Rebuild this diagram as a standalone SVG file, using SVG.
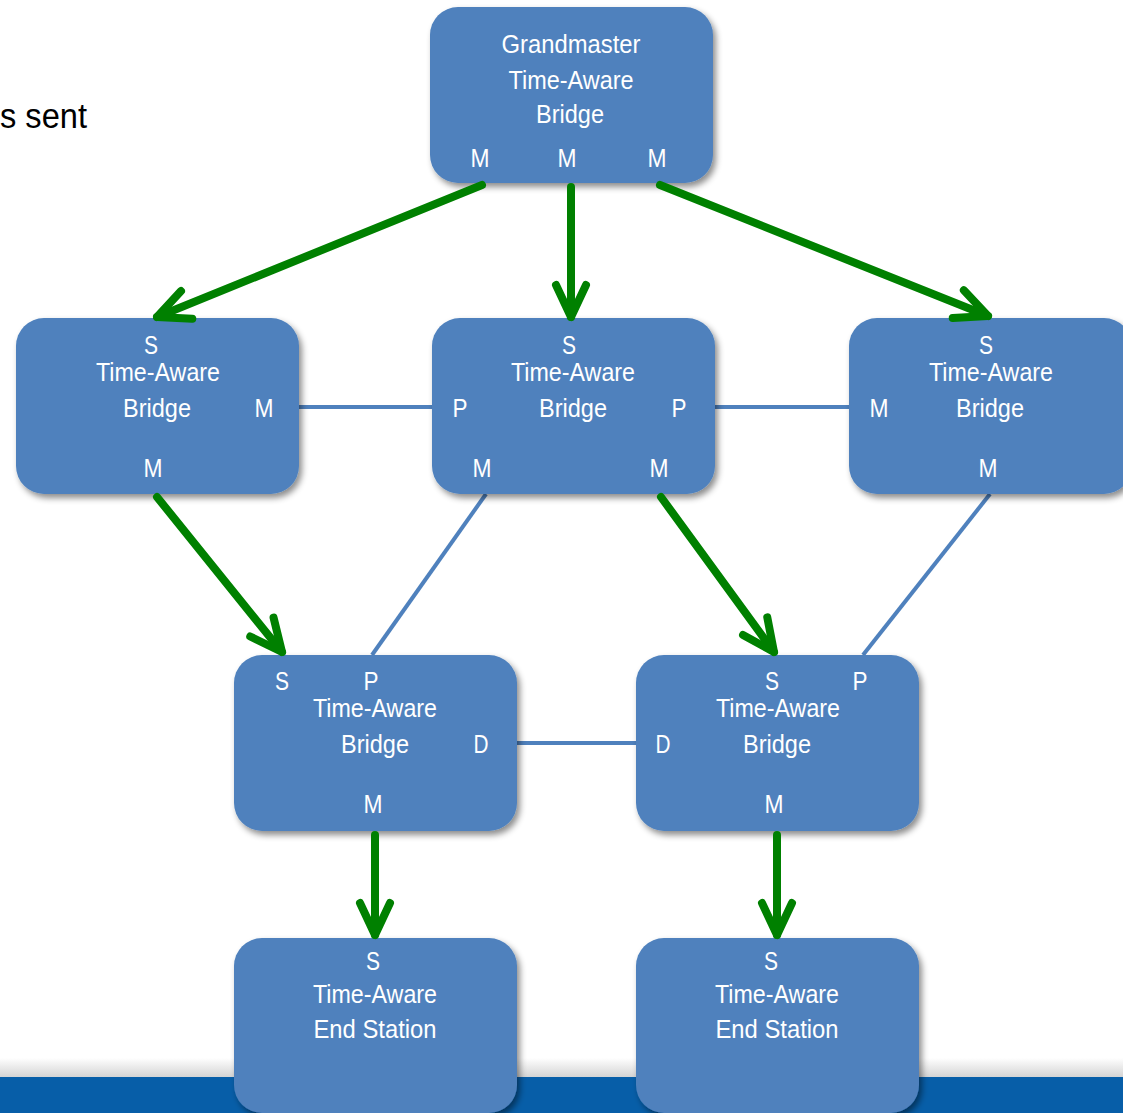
<svg xmlns="http://www.w3.org/2000/svg" width="1123" height="1113" viewBox="0 0 1123 1113">
<style>
.box{fill:#4F81BD;filter:url(#sh)}
.t{font-family:"Liberation Sans",Arial,sans-serif;font-size:26px;fill:#ffffff;text-anchor:middle}
.g{stroke:#008000;stroke-width:8;fill:none;stroke-linecap:round;marker-end:url(#ah)}
.b{stroke:#4F81BD;stroke-width:4;fill:none}
</style>
<defs>
<filter id="sh" x="-10%" y="-10%" width="125%" height="125%">
<feDropShadow dx="3" dy="4" stdDeviation="3" flood-color="#000" flood-opacity="0.45"/>
</filter>
<marker id="ah" markerUnits="userSpaceOnUse" orient="auto" refX="0" refY="0" markerWidth="40" markerHeight="40" overflow="visible">
<path d="M-32,-15 L0,0 L-32,15" fill="none" stroke="#008000" stroke-width="8" stroke-linecap="round" stroke-linejoin="round"/>
</marker>
<linearGradient id="bg" x1="0" y1="0" x2="0" y2="1">
<stop offset="0" stop-color="#ffffff"/>
<stop offset="1" stop-color="#d4d4d4"/>
</linearGradient>
</defs>
<rect x="0" y="0" width="1123" height="1113" fill="#ffffff"/>
<rect x="0" y="1058" width="1123" height="19" fill="url(#bg)"/>
<rect x="0" y="1077" width="1123" height="36" fill="#075EA8"/>
<text x="0" y="128" font-family="'Liberation Sans',Arial,sans-serif" font-size="35" fill="#000" textLength="87" lengthAdjust="spacingAndGlyphs">s sent</text>

<g id="connectors">
<line class="b" x1="299" y1="407" x2="432" y2="407"/>
<line class="b" x1="715" y1="407" x2="849" y2="407"/>
<line class="b" x1="486" y1="494" x2="372" y2="655"/>
<line class="b" x1="990" y1="494" x2="863" y2="655"/>
<line class="b" x1="517" y1="743" x2="636" y2="743"/>
</g>

<g id="gm"><rect class="box" x="430" y="7" width="283" height="176" rx="28"/>
<text class="t" x="571" y="53" textLength="139" lengthAdjust="spacingAndGlyphs">Grandmaster</text>
<text class="t" x="571" y="89" textLength="125" lengthAdjust="spacingAndGlyphs">Time-Aware</text>
<text class="t" x="570" y="123" textLength="68" lengthAdjust="spacingAndGlyphs">Bridge</text>
<text class="t" x="480" y="167" textLength="19" lengthAdjust="spacingAndGlyphs">M</text>
<text class="t" x="567" y="167" textLength="19" lengthAdjust="spacingAndGlyphs">M</text>
<text class="t" x="657" y="167" textLength="19" lengthAdjust="spacingAndGlyphs">M</text></g>

<g id="b1"><rect class="box" x="16" y="318" width="283" height="176" rx="28"/>
<text class="t" x="151" y="354" textLength="14" lengthAdjust="spacingAndGlyphs">S</text>
<text class="t" x="158" y="381" textLength="124" lengthAdjust="spacingAndGlyphs">Time-Aware</text>
<text class="t" x="157" y="417" textLength="68" lengthAdjust="spacingAndGlyphs">Bridge</text>
<text class="t" x="264" y="417" textLength="19" lengthAdjust="spacingAndGlyphs">M</text>
<text class="t" x="153" y="477" textLength="19" lengthAdjust="spacingAndGlyphs">M</text></g>

<g id="b2"><rect class="box" x="432" y="318" width="283" height="176" rx="28"/>
<text class="t" x="569" y="354" textLength="14" lengthAdjust="spacingAndGlyphs">S</text>
<text class="t" x="573" y="381" textLength="124" lengthAdjust="spacingAndGlyphs">Time-Aware</text>
<text class="t" x="460" y="417" textLength="15" lengthAdjust="spacingAndGlyphs">P</text>
<text class="t" x="573" y="417" textLength="68" lengthAdjust="spacingAndGlyphs">Bridge</text>
<text class="t" x="679" y="417" textLength="15" lengthAdjust="spacingAndGlyphs">P</text>
<text class="t" x="482" y="477" textLength="19" lengthAdjust="spacingAndGlyphs">M</text>
<text class="t" x="659" y="477" textLength="19" lengthAdjust="spacingAndGlyphs">M</text></g>

<g id="b3"><rect class="box" x="849" y="318" width="283" height="176" rx="28"/>
<text class="t" x="986" y="354" textLength="14" lengthAdjust="spacingAndGlyphs">S</text>
<text class="t" x="991" y="381" textLength="124" lengthAdjust="spacingAndGlyphs">Time-Aware</text>
<text class="t" x="879" y="417" textLength="19" lengthAdjust="spacingAndGlyphs">M</text>
<text class="t" x="990" y="417" textLength="68" lengthAdjust="spacingAndGlyphs">Bridge</text>
<text class="t" x="988" y="477" textLength="19" lengthAdjust="spacingAndGlyphs">M</text></g>

<g id="b4"><rect class="box" x="234" y="655" width="283" height="176" rx="28"/>
<text class="t" x="282" y="690" textLength="14" lengthAdjust="spacingAndGlyphs">S</text>
<text class="t" x="371" y="690" textLength="15" lengthAdjust="spacingAndGlyphs">P</text>
<text class="t" x="375" y="717" textLength="124" lengthAdjust="spacingAndGlyphs">Time-Aware</text>
<text class="t" x="375" y="753" textLength="68" lengthAdjust="spacingAndGlyphs">Bridge</text>
<text class="t" x="481" y="753" textLength="15" lengthAdjust="spacingAndGlyphs">D</text>
<text class="t" x="373" y="813" textLength="19" lengthAdjust="spacingAndGlyphs">M</text></g>

<g id="b5"><rect class="box" x="636" y="655" width="283" height="176" rx="28"/>
<text class="t" x="772" y="690" textLength="14" lengthAdjust="spacingAndGlyphs">S</text>
<text class="t" x="860" y="690" textLength="15" lengthAdjust="spacingAndGlyphs">P</text>
<text class="t" x="778" y="717" textLength="124" lengthAdjust="spacingAndGlyphs">Time-Aware</text>
<text class="t" x="663" y="753" textLength="15" lengthAdjust="spacingAndGlyphs">D</text>
<text class="t" x="777" y="753" textLength="68" lengthAdjust="spacingAndGlyphs">Bridge</text>
<text class="t" x="774" y="813" textLength="19" lengthAdjust="spacingAndGlyphs">M</text></g>

<g id="e1"><rect class="box" x="234" y="938" width="283" height="175" rx="28"/>
<text class="t" x="373" y="970" textLength="14" lengthAdjust="spacingAndGlyphs">S</text>
<text class="t" x="375" y="1003" textLength="124" lengthAdjust="spacingAndGlyphs">Time-Aware</text>
<text class="t" x="375" y="1038" textLength="123" lengthAdjust="spacingAndGlyphs">End Station</text></g>

<g id="e2"><rect class="box" x="636" y="938" width="283" height="175" rx="28"/>
<text class="t" x="771" y="970" textLength="14" lengthAdjust="spacingAndGlyphs">S</text>
<text class="t" x="777" y="1003" textLength="124" lengthAdjust="spacingAndGlyphs">Time-Aware</text>
<text class="t" x="777" y="1038" textLength="123" lengthAdjust="spacingAndGlyphs">End Station</text></g>

<g id="arrows">
<line class="g" x1="482" y1="185" x2="157" y2="317"/>
<line class="g" x1="571" y1="187" x2="571" y2="317"/>
<line class="g" x1="660" y1="185" x2="988" y2="316"/>
<line class="g" x1="157" y1="497" x2="282" y2="652"/>
<line class="g" x1="661" y1="497" x2="774" y2="652"/>
<line class="g" x1="375" y1="835" x2="375" y2="935"/>
<line class="g" x1="777" y1="835" x2="777" y2="935"/>
</g>
</svg>
